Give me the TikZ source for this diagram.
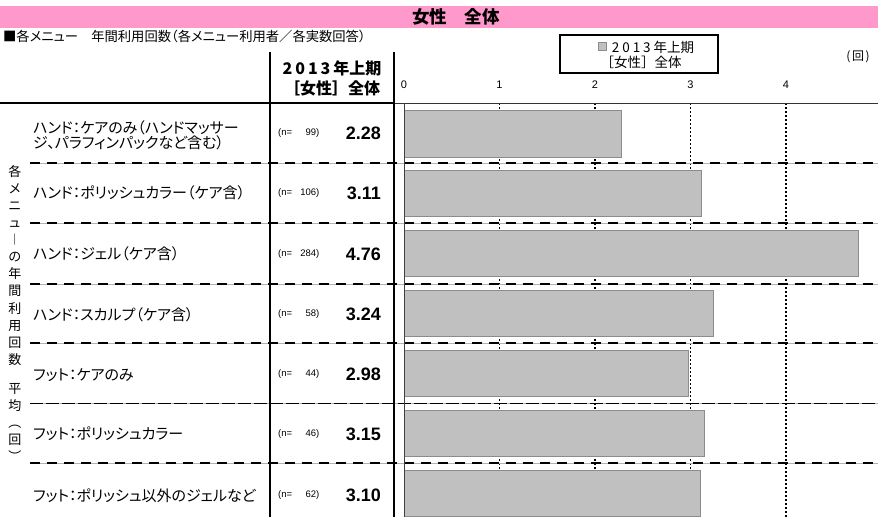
\documentclass[tikz,border=0pt]{standalone}
\usepackage{fontspec}
\setmainfont{Noto Sans CJK JP}
\newfontfamily\jpp{Noto Sans CJK JP}[RawFeature={+palt}]
\newfontfamily\numfont{Liberation Sans}
\definecolor{pinkbg}{HTML}{FF99CC}
\definecolor{barfill}{HTML}{C0C0C0}
\definecolor{barline}{HTML}{8C8C8C}
\begin{document}
\begin{tikzpicture}[x=1pt,y=-1pt,
  every node/.style={inner sep=0pt},
  lbl/.style={anchor=west, align=left, font=\jpp\fontsize{15}{15}\selectfont},
  nval/.style={anchor=west, font=\numfont\fontsize{9.5}{10}\selectfont},
  val/.style={anchor=east, font=\numfont\bfseries\fontsize{18}{20}\selectfont},
  bar/.style={fill=barfill, draw=barline, line width=0.8pt},
  rowsep/.style={line width=1.6pt, dash pattern=on 10pt off 7pt},
  rowsepthin/.style={line width=0.9pt, dash pattern=on 13pt off 3pt},
  underl/.style={line width=0.6pt, black!30},
  gridl/.style={line width=1.3pt, dash pattern=on 1.5pt off 2.5pt},
  thickv/.style={line width=1.8pt},
  tick/.style={font=\numfont\fontsize{11}{12}\selectfont}
]
\useasboundingbox (0,0) rectangle (878,517);
% banner
\fill[pinkbg] (0,6) rectangle (878,28);
\node[font=\bfseries\fontsize{17.5}{18}\selectfont] (title) at (456,17) {女性　全体};
\node[anchor=west, font=\jpp\fontsize{13.3}{14}\selectfont] (sub) at (3,36) {■各メニュー　年間利用回数（各メニュー利用者／各実数回答）};
% header
\node[align=center, font=\bfseries\fontsize{16}{20}\selectfont] (head) at (332,78)
  {2\kern3pt0\kern3pt1\kern3pt3\kern3pt年上期\\［女性］全体};
% legend
\node[draw, line width=1.1pt, minimum width=158pt, minimum height=38pt] (legend) at (639,54) {};
\node[fill=barfill, draw=barline, line width=0.6pt, minimum size=7.5pt] (legsq) at (602.5,46.5) {};
\node[font=\fontsize{13.5}{15}\selectfont] (leg1) at (653,47) {2\kern3pt0\kern3pt1\kern3pt3\kern3pt年上期};
\node[font=\fontsize{13.5}{15}\selectfont] (leg2) at (641,62) {［女性］全体};
\node[font=\fontsize{12}{13}\selectfont] (unit) at (858,57) {(\kern1.5pt回\kern1.5pt)};
% ticks
\foreach \k in {0,...,4} \node[tick] (t\k) at ({404+95.5*\k},85) {\k};
% gridlines
\foreach \k in {1,...,4} \draw[gridl] ({404+95.5*\k},103) -- ({404+95.5*\k},517);
% bars
\foreach \t/\b/\v in {110/157/2.28, 170/216/3.11, 230/276/4.76, 290/336/3.24, 350/396/2.98, 410/456/3.15, 470/516/3.10}
  \filldraw[bar] (404,\t) rectangle ({404+95.5*\v},\b);
% row separators
\foreach \y in {163,223,284,343,403,463} \draw[underl] (30,\y) -- (878,\y);
\foreach \y in {163,223,284,343,463} \draw[rowsep] (30,\y) -- (878,\y);
\draw[rowsepthin] (30,403) -- (878,403);
% frame lines
\draw[line width=1.6pt] (0,103) -- (394,103);
\draw[line width=0.8pt, black!80] (394,103) -- (878,103);
\draw[thickv] (270,52) -- (270,517);
\draw[thickv] (394,52) -- (394,517);
\draw[line width=1pt, black!75] (404,103) -- (404,517);
% vertical label
\node[anchor=north, align=center, font=\fontsize{13}{17.1}\selectfont] (vlab) at (15,165)
  {各\\メ\\ニ\\ュ\\︱\\の\\年\\間\\利\\用\\回\\数\\[12pt]平\\均\\︵\\回\\︶};
% row labels
\node[lbl] (l1) at (33,135) {ハンド：ケアのみ（ハンドマッサー\\ジ、パラフィンパックなど含む）};
\node[lbl] (l2) at (33,193) {ハンド：ポリッシュカラー（ケア含）};
\node[lbl] (l3) at (33,254) {ハンド：ジェル（ケア含）};
\node[lbl] (l4) at (33,315) {ハンド：スカルプ（ケア含）};
\node[lbl] (l5) at (33,375) {フット：ケアのみ};
\node[lbl] (l6) at (33,434) {フット：ポリッシュカラー};
\node[lbl] (l7) at (33,496) {フット：ポリッシュ以外のジェルなど};
% n values
\node[nval] (n1) at (278,133) {(n=\makebox[24pt][r]{99})};
\node[nval] (n2) at (278,193) {(n=\makebox[24pt][r]{106})};
\node[nval] (n3) at (278,254) {(n=\makebox[24pt][r]{284})};
\node[nval] (n4) at (278,314) {(n=\makebox[24pt][r]{58})};
\node[nval] (n5) at (278,374) {(n=\makebox[24pt][r]{44})};
\node[nval] (n6) at (278,434) {(n=\makebox[24pt][r]{46})};
\node[nval] (n7) at (278,495) {(n=\makebox[24pt][r]{62})};
% values
\node[val] (v1) at (381,133) {2.28};
\node[val] (v2) at (381,193) {3.11};
\node[val] (v3) at (381,254) {4.76};
\node[val] (v4) at (381,314) {3.24};
\node[val] (v5) at (381,374) {2.98};
\node[val] (v6) at (381,434) {3.15};
\node[val] (v7) at (381,495) {3.10};
\end{tikzpicture}
\end{document}
